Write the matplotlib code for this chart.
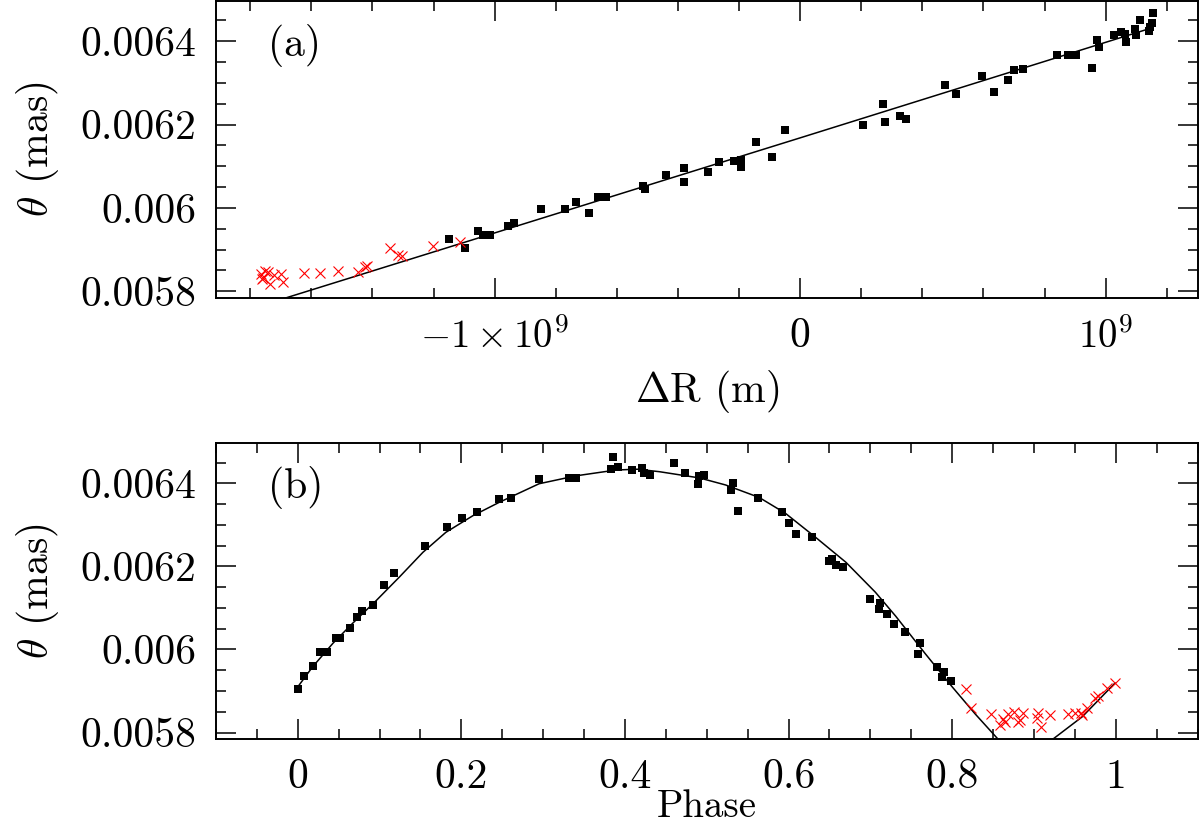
import matplotlib
matplotlib.use("Agg")
import matplotlib.pyplot as plt
from matplotlib.ticker import FixedLocator, MultipleLocator

# panel (a): theta against delta R (delta R in units of 1e9 m)
dR_black = [-1.150, -1.096, -1.056, -1.038, -1.016, -0.957, -0.935, -0.847, -0.771, -0.733,
            -0.690, -0.662, -0.635, -0.513, -0.507, -0.439, -0.379, -0.379, -0.301, -0.267,
            -0.218, -0.194, -0.194, -0.145, -0.092, -0.050, 0.207, 0.272, 0.277, 0.327,
            0.347, 0.474, 0.509, 0.596, 0.634, 0.681, 0.699, 0.729, 0.841, 0.876,
            0.904, 0.955, 0.972, 0.977, 1.026, 1.051, 1.068, 1.064, 1.095, 1.099,
            1.113, 1.141, 1.151, 1.154, 1.146]
theta_a_black = [0.005925, 0.005904, 0.005944, 0.005935, 0.005935, 0.005957, 0.005963, 0.005997, 0.005997, 0.006015,
                 0.005988, 0.006027, 0.006027, 0.006053, 0.006045, 0.006079, 0.006095, 0.006061, 0.006085, 0.006109,
                 0.006113, 0.006115, 0.006098, 0.006157, 0.006122, 0.006187, 0.006200, 0.006250, 0.006205, 0.006221,
                 0.006213, 0.006296, 0.006274, 0.006317, 0.006279, 0.006306, 0.006332, 0.006334, 0.006366, 0.006368,
                 0.006366, 0.006336, 0.006402, 0.006386, 0.006414, 0.006422, 0.006399, 0.006418, 0.006430, 0.006416,
                 0.006451, 0.006424, 0.006443, 0.006467, 0.006435]
dR_red = [-1.766, -1.752, -1.743, -1.757, -1.735, -1.721, -1.700, -1.694, -1.762, -1.623,
          -1.570, -1.512, -1.447, -1.425, -1.417, -1.343, -1.316, -1.302, -1.202, -1.114]
theta_a_red = [0.005840, 0.005848, 0.005845, 0.005831, 0.005816, 0.005838, 0.005841, 0.005821, 0.005829, 0.005844,
               0.005844, 0.005848, 0.005845, 0.005858, 0.005861, 0.005903, 0.005888, 0.005885, 0.005909, 0.005919]
dR_fit = [-1.70, 0.0, 1.151]
theta_a_fit = [0.005780, 0.006168, 0.006432]

# panel (b): theta against pulsation phase
phase_black = [0.000, 0.008, 0.018, 0.027, 0.036, 0.047, 0.051, 0.064, 0.072, 0.079,
               0.092, 0.105, 0.117, 0.156, 0.182, 0.201, 0.219, 0.246, 0.261, 0.295,
               0.332, 0.340, 0.385, 0.383, 0.391, 0.408, 0.421, 0.423, 0.430, 0.460,
               0.473, 0.489, 0.491, 0.497, 0.532, 0.530, 0.538, 0.562, 0.592, 0.600,
               0.609, 0.628, 0.649, 0.653, 0.658, 0.666, 0.700, 0.712, 0.710, 0.720,
               0.729, 0.742, 0.761, 0.758, 0.781, 0.790, 0.788, 0.799]
theta_b_black = [0.005904, 0.005936, 0.005961, 0.005994, 0.005994, 0.006027, 0.006027, 0.006051, 0.006077, 0.006093,
                 0.006108, 0.006156, 0.006185, 0.006248, 0.006294, 0.006317, 0.006330, 0.006363, 0.006365, 0.006411,
                 0.006413, 0.006414, 0.006464, 0.006435, 0.006440, 0.006433, 0.006438, 0.006426, 0.006420, 0.006448,
                 0.006426, 0.006399, 0.006418, 0.006420, 0.006400, 0.006384, 0.006334, 0.006365, 0.006332, 0.006305,
                 0.006277, 0.006270, 0.006213, 0.006219, 0.006204, 0.006198, 0.006121, 0.006112, 0.006097, 0.006085,
                 0.006061, 0.006042, 0.006015, 0.005988, 0.005958, 0.005946, 0.005934, 0.005925]
phase_red = [0.817, 0.823, 0.848, 0.859, 0.862, 0.868, 0.876, 0.883, 0.886, 0.864,
             0.880, 0.905, 0.904, 0.909, 0.920, 0.942, 0.950, 0.957, 0.959, 0.965,
             0.975, 0.978, 0.989, 0.999]
theta_b_red = [0.005904, 0.005859, 0.005845, 0.005818, 0.005833, 0.005845, 0.005850, 0.005830, 0.005848, 0.005826,
               0.005826, 0.005848, 0.005836, 0.005813, 0.005842, 0.005845, 0.005848, 0.005848, 0.005842, 0.005859,
               0.005883, 0.005888, 0.005908, 0.005919]
phase_fit = [0.000, 0.018, 0.043, 0.067, 0.096, 0.124, 0.153, 0.181, 0.214, 0.246,
             0.295, 0.340, 0.389, 0.415, 0.442, 0.491, 0.523, 0.564, 0.596, 0.633,
             0.670, 0.706, 0.731, 0.751, 0.767, 0.800, 0.828, 0.857, 0.875, 0.890,
             0.905, 0.923, 0.959, 0.999]
theta_b_fit = [0.005910, 0.005958, 0.006015, 0.006063, 0.006118, 0.006174, 0.006234, 0.006282, 0.006322, 0.006354,
               0.006399, 0.006418, 0.006432, 0.006434, 0.006428, 0.006413, 0.006396, 0.006366, 0.006328, 0.006270,
               0.006210, 0.006138, 0.006080, 0.006030, 0.005990, 0.005910, 0.005845, 0.005782, 0.005762, 0.005755,
               0.005762, 0.005784, 0.005838, 0.005919]

y_ticks = [0.0058, 0.006, 0.0062, 0.0064]
y_labels = ["0.0058", "0.006", "0.0062", "0.0064"]
xa_ticks = [-1e9, 0, 1e9]
xa_labels = [r"$-1\times10^9$", "0", r"$10^9$"]
xb_ticks = [0, 0.2, 0.4, 0.6, 0.8, 1.0]
xb_labels = ["0", "0.2", "0.4", "0.6", "0.8", "1"]

FS = 30


def style_axis(ax):
    ax.set_ylim(0.005784, 0.006497)
    ax.yaxis.set_major_locator(FixedLocator(y_ticks))
    ax.set_yticklabels(y_labels)
    ax.yaxis.set_minor_locator(MultipleLocator(0.00005))
    ax.tick_params(which="both", direction="in", top=True, right=True, width=1.1)
    ax.tick_params(which="major", length=14.5, pad=14, labelsize=FS)
    ax.tick_params(which="minor", length=7.2)
    for s in ax.spines.values():
        s.set_linewidth(1.4)


def main():
    plt.rcParams["font.family"] = ["cmr10", "DejaVu Serif"]
    plt.rcParams["mathtext.fontset"] = "cm"
    plt.rcParams["axes.unicode_minus"] = False

    fig = plt.figure(figsize=(12, 8.25), dpi=100)
    top = fig.add_axes([0.18, 0.639, 0.818, 0.36])
    bot = fig.add_axes([0.18, 0.104, 0.818, 0.359])

    # (a)
    x_black = [v * 1e9 for v in dR_black]
    x_red = [v * 1e9 for v in dR_red]
    x_fit = [v * 1e9 for v in dR_fit]
    top.plot(x_fit, theta_a_fit, color="black", lw=1.1)
    top.plot(x_black, theta_a_black, "s", color="black", ms=5.6, mew=0)
    top.plot(x_red, theta_a_red, "x", color="red", ms=7.5, mew=0.8)
    top.set_xlim(-1.912e9, 1.301e9)
    top.xaxis.set_major_locator(FixedLocator(xa_ticks))
    top.set_xticklabels(xa_labels)
    top.xaxis.set_minor_locator(MultipleLocator(2e8))
    style_axis(top)
    # the power-of-ten labels come out a bit smaller in the original
    for lbl in top.get_xticklabels():
        if "10" in lbl.get_text():
            lbl.set_fontsize(28)
    top.set_xlabel(r"$\Delta$R (m)", fontsize=FS, labelpad=9)
    top.set_ylabel(r"$\theta$ (mas)", fontsize=FS, labelpad=14)
    top.text(0.053, 0.85, "(a)", transform=top.transAxes, fontsize=FS, va="center")

    # (b)
    bot.plot(phase_fit, theta_b_fit, color="black", lw=1.1)
    bot.plot(phase_black, theta_b_black, "s", color="black", ms=5.6, mew=0)
    bot.plot(phase_red, theta_b_red, "x", color="red", ms=7.5, mew=0.8)
    bot.set_xlim(-0.1, 1.1)
    bot.xaxis.set_major_locator(FixedLocator(xb_ticks))
    bot.set_xticklabels(xb_labels)
    bot.xaxis.set_minor_locator(MultipleLocator(0.05))
    style_axis(bot)
    bot.set_xlabel("Phase", fontsize=28)
    bot.xaxis.set_label_coords(0.5, -0.169)
    bot.set_ylabel(r"$\theta$ (mas)", fontsize=FS, labelpad=14)
    bot.text(0.053, 0.85, "(b)", transform=bot.transAxes, fontsize=FS, va="center")

    fig.savefig("out.png", dpi=100)


main()
